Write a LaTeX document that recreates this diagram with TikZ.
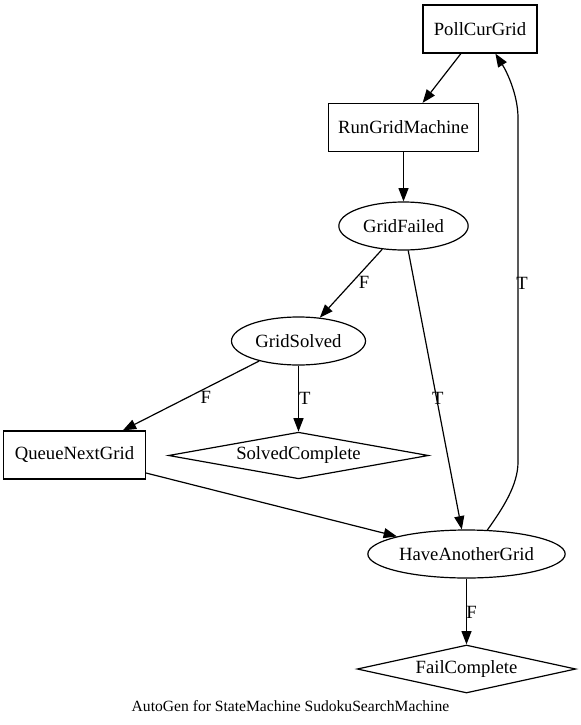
\documentclass[tikz,border=0pt]{standalone}
\usepackage{fontspec}
\setmainfont{Liberation Serif}
\usetikzlibrary{shapes.geometric,arrows.meta}
\begin{document}
\begin{tikzpicture}[x=0.75pt,y=-0.75pt,
    every node/.style={font=\fontsize{14}{17}\selectfont},
    state/.style={draw, line width=0.9pt, inner sep=0pt, minimum height=36pt},
    box/.style={state, rectangle},
    oval/.style={state, ellipse},
    final/.style={state, diamond},
    lbl/.style={inner sep=0pt},
    go/.style={-{Triangle[length=10pt,width=7.5pt]}, line width=0.9pt}]
    \useasboundingbox (0,0) rectangle (581,725);
    \node[box, minimum width=85.5pt] (poll) at (480,29) {PollCurGrid};
    \node[box, minimum width=113pt] (run) at (403.5,127.5) {RunGridMachine};
    \node[oval, minimum width=97pt] (failed) at (403.5,226) {GridFailed};
    \node[oval, minimum width=100.5pt] (solved) at (298.5,341) {GridSolved};
    \node[box, minimum width=106pt] (queue) at (74.5,455) {QueueNextGrid};
    \node[final, aspect=5.5, minimum width=195pt, minimum height=35pt] (solvedc) at (298.5,455.5) {SolvedComplete};
    \node[oval, minimum width=148pt] (have) at (466.5,554) {HaveAnotherGrid};
    \node[final, aspect=4.5, minimum width=164pt] (failc) at (466.5,669) {FailComplete};
    \node[font=\fontsize{11.7}{14}\selectfont] (caption) at (290.5,706) {AutoGen for StateMachine SudokuSearchMachine};
    \draw[go] (poll) -- (run);
    \draw[go] (run) -- (failed);
    \draw[go] (failed) -- node[lbl, pos=0.49, right=5pt] {F} (solved);
    \draw[go] (failed) -- node[lbl, pos=0.53, xshift=1pt] {T} (have);
    \draw[go] (solved) -- node[lbl, pos=0.53, right=9.75pt] {F} (queue);
    \draw[go] (solved) -- node[lbl, pos=0.5, right=0pt] {T} (solvedc);
    \draw[go] (queue) -- (have);
    \draw[go] (have.49) .. controls (503,508) and (518,485) .. (518,462)
        -- node[lbl, pos=0.52, xshift=3pt] {T} (518,118)
        .. controls (518,95) and (507,72) .. (poll.-58);
    \draw[go] (have) -- node[lbl, pos=0.52, xshift=3.75pt] {F} (failc);
\end{tikzpicture}
\end{document}
